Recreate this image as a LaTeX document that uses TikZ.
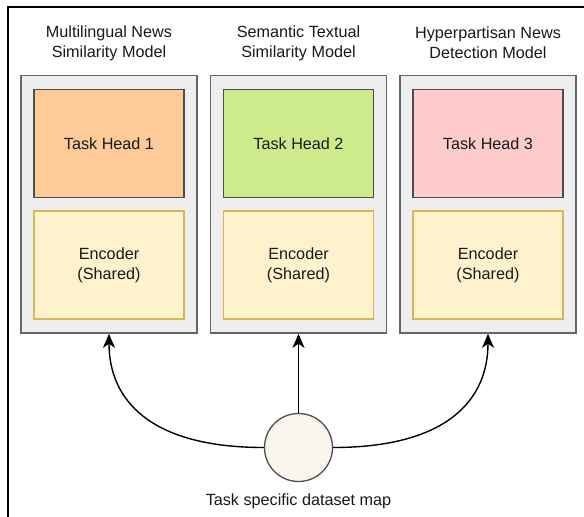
\documentclass[tikz,border=0pt]{standalone}
\usepackage{fontspec}
\setmainfont{Liberation Sans}
\usetikzlibrary{arrows.meta}
\definecolor{outerfill}{HTML}{EEEEEE}
\definecolor{outerdraw}{HTML}{666666}
\definecolor{headdraw}{HTML}{4D4D4D}
\definecolor{headA}{HTML}{FFCC99}
\definecolor{headB}{HTML}{CDEB8B}
\definecolor{headC}{HTML}{FFCCCC}
\definecolor{encfill}{HTML}{FFF2CC}
\definecolor{encdraw}{HTML}{D6B656}
\definecolor{circfill}{HTML}{F9F7ED}
\tikzset{
  txt/.style={font=\fontsize{16.2}{20}\selectfont, text=black!90, align=center},
  outerbox/.style={draw=outerdraw, fill=outerfill, line width=1.6pt, minimum width=176pt, minimum height=257.5pt, inner sep=0pt},
  headbox/.style={txt, draw=headdraw, line width=1.3pt, minimum width=150pt, minimum height=108pt, inner sep=0pt},
  encbox/.style={txt, draw=encdraw, fill=encfill, line width=1.1pt, minimum width=150pt, minimum height=108pt, inner sep=0pt},
  link/.style={line width=1.4pt, -{Stealth[length=14pt,width=12pt,inset=4pt]}},
}
\begin{document}
\begin{tikzpicture}[x=1pt,y=-1pt]
\useasboundingbox (0,0) rectangle (584,517);
\draw[line width=1.6pt] (8,517) -- (8,7) -- (584,7);
% titles
\node[txt] (t1) at (109,43) {Multilingual News\\Similarity Model};
\node[txt] (t2) at (298.5,43) {Semantic Textual\\Similarity Model};
\node[txt] (t3) at (488,43) {Hyperpartisan News\\Detection Model};
% outer boxes
\node[outerbox] (b1) at (109,204.25) {};
\node[outerbox] (b2) at (298.5,204.25) {};
\node[outerbox] (b3) at (488,204.25) {};
% heads
\node[headbox, fill=headA] (h1) at (109,143.5) {Task Head 1};
\node[headbox, fill=headB] (h2) at (298.5,143.5) {Task Head 2};
\node[headbox, fill=headC] (h3) at (488,143.5) {Task Head 3};
% encoders
\node[encbox] (e1) at (109,265) {Encoder\\(Shared)};
\node[encbox] (e2) at (298.5,265) {Encoder\\(Shared)};
\node[encbox] (e3) at (488,265) {Encoder\\(Shared)};
% circle
\node[circle, draw=headdraw, fill=circfill, line width=1.3pt, minimum size=68pt, inner sep=0pt] (c) at (298.5,447.5) {};
\node[txt] (lbl) at (298.5,501) {Task specific dataset map};
% connectors
\draw[link] (c.north) -- (b2.south);
\draw[link] (c.west) .. controls (150,447.5) and (109,400) .. (b1.south);
\draw[link] (c.east) .. controls (447,447.5) and (488,400) .. (b3.south);
\end{tikzpicture}
\end{document}
